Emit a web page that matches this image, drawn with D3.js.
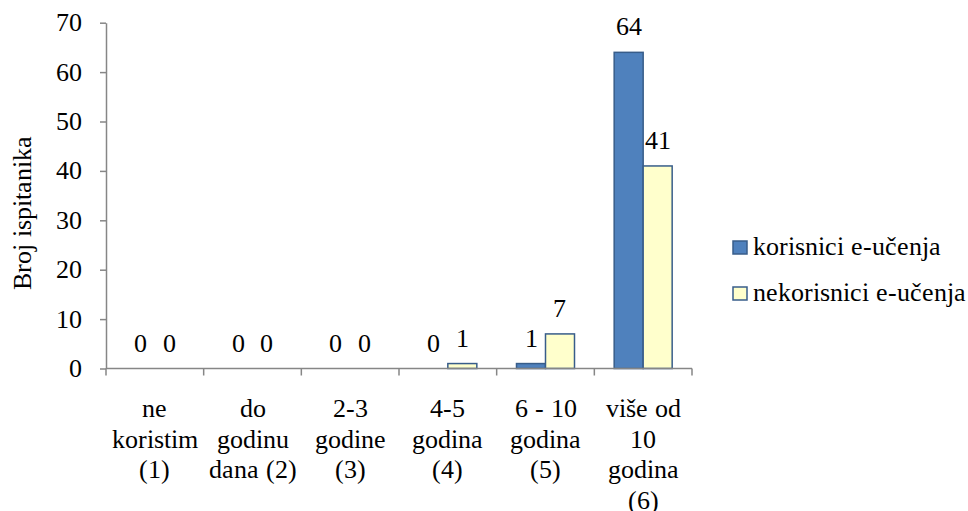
<!DOCTYPE html>
<html>
<head>
<meta charset="utf-8">
<script src="https://cdn.jsdelivr.net/npm/d3@7"></script>
<style>
  @font-face { font-family: "ChartSerif"; src: local("Liberation Serif"), local("LiberationSerif"), local("Tinos"), local("Times New Roman"); }
  html, body { margin: 0; padding: 0; background: #fff; }
  svg text { font-family: ChartSerif, "Liberation Serif", Tinos, serif; }
</style>
</head>
<body>
<svg id="c" width="968" height="511"></svg>
<script>
// ---- data ----
const categories = [
  "ne\nkoristim\n(1)",
  "do\ngodinu\ndana (2)",
  "2-3\ngodine\n(3)",
  "4-5\ngodina\n(4)",
  "6 - 10\ngodina\n(5)",
  "više od\n10\ngodina\n(6)"
];
const seriesNames = ["korisnici e-učenja", "nekorisnici e-učenja"];
const korisnici = [0, 0, 0, 0, 1, 64];
const nekorisnici = [0, 0, 0, 1, 7, 41];
const yTicks = [0, 10, 20, 30, 40, 50, 60, 70];
const yTitle = "Broj ispitanika";

// ---- styles ----
const colors = ["#4F81BD", "#FFFFCC"];
const strokes = ["#385D8A", "#385D8A"];
const axisColor = "#868686";
const fontSize = 26;

const svg = d3.select("#c");
const pLeft = 106, pRight = 692, pTop = 22.7, pBottom = 368.5;

const x = d3.scaleBand().domain(d3.range(categories.length)).range([pLeft, pRight]).padding(0);
const xs = d3.scaleBand().domain([0, 1]).range([0, x.bandwidth()]).paddingInner(0).paddingOuter(0.684);
const y = d3.scaleLinear().domain([0, 70]).range([pBottom, pTop]);

function styleText(sel) {
  return sel.attr("font-size", fontSize).attr("fill", "#000");
}

// bars
const series = [korisnici, nekorisnici];
series.forEach((vals, s) => {
  svg.append("g").selectAll("rect").data(vals).join("rect")
    .attr("x", (d, i) => x(i) + xs(s))
    .attr("y", d => y(d))
    .attr("width", xs.bandwidth())
    .attr("height", d => y(0) - y(d))
    .attr("fill", colors[s])
    .attr("stroke", d => d > 0 ? strokes[s] : "none")
    .attr("stroke-width", 1.5);
});

// y axis line and ticks
const yAxis = svg.append("g").attr("transform", `translate(${pLeft},0)`)
  .call(d3.axisLeft(y).tickValues(yTicks).tickSize(6).tickFormat("").tickSizeOuter(0));
yAxis.attr("font-family", null);
yAxis.select(".domain").attr("stroke", axisColor).attr("stroke-width", 1.5);
yAxis.selectAll(".tick line").attr("stroke", axisColor).attr("stroke-width", 1.5);
yAxis.selectAll(".tick text").remove();
yTicks.forEach(v => {
  styleText(svg.append("text"))
    .attr("x", pLeft - 24).attr("y", y(v) + 8.5)
    .attr("text-anchor", "end").text(v);
});

// x axis
const boundaries = d3.range(categories.length + 1).map(i => pLeft + i * x.step());
const xg = svg.append("g");
xg.append("line").attr("x1", pLeft).attr("x2", pRight).attr("y1", pBottom).attr("y2", pBottom)
  .attr("stroke", axisColor).attr("stroke-width", 1.5);
xg.selectAll("line.tk").data(boundaries).join("line").attr("class", "tk")
  .attr("x1", d => d).attr("x2", d => d).attr("y1", pBottom).attr("y2", pBottom + 7)
  .attr("stroke", axisColor).attr("stroke-width", 1.5);

// category labels
categories.forEach((c, i) => {
  c.split("\n").forEach((line, j) => {
    styleText(svg.append("text")).attr("text-anchor", "middle")
      .attr("x", x(i) + x.bandwidth() / 2)
      .attr("y", 417 + j * 30.5).text(line);
  });
});

// value labels
series.forEach((vals, s) => {
  vals.forEach((d, i) => {
    styleText(svg.append("text"))
      .attr("x", x(i) + xs(s) + xs.bandwidth() / 2)
      .attr("y", y(d) - 17)
      .attr("text-anchor", "middle")
      .text(d);
  });
});

// y title
styleText(svg.append("text"))
  .attr("transform", `translate(31,${(pTop + pBottom) / 2 + 17}) rotate(-90)`)
  .attr("text-anchor", "middle")
  .text(yTitle);

// legend
seriesNames.forEach((n, s) => {
  const yy = 241 + s * 46;
  svg.append("rect").attr("x", 733).attr("y", yy).attr("width", 14).attr("height", 13)
    .attr("fill", colors[s]).attr("stroke", strokes[s]).attr("stroke-width", 1.5);
  styleText(svg.append("text")).attr("x", 753).attr("y", yy + 14).text(n);
});
</script>
</body>
</html>
